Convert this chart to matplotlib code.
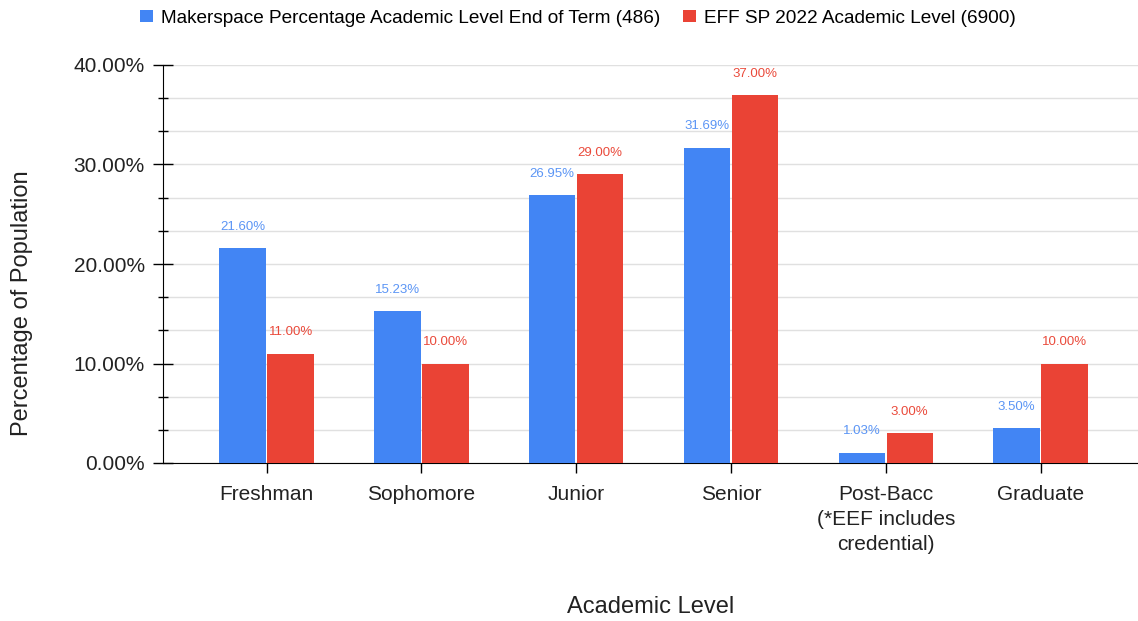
import numpy as np
import matplotlib.pyplot as plt
from matplotlib.ticker import MultipleLocator, FuncFormatter

plt.rcParams['font.family'] = ['Liberation Sans', 'DejaVu Sans']

categories = ["Freshman", "Sophomore", "Junior", "Senior",
              "Post-Bacc\n(*EEF includes\ncredential)", "Graduate"]
makerspace = [21.60, 15.23, 26.95, 31.69, 1.03, 3.50]
eff = [11.00, 10.00, 29.00, 37.00, 3.00, 10.00]
series_names = ["Makerspace Percentage Academic Level End of Term (486)",
                "EFF SP 2022 Academic Level (6900)"]

BLUE = "#4285F4"
RED = "#EA4335"

fig = plt.figure(figsize=(11.38, 6.21), dpi=100)
ax = fig.add_axes([163 / 1138, 1 - 463 / 621, (1138 - 163) / 1138, (463 - 65) / 621])

x = np.arange(len(categories))
w = 0.30
off = 0.155
b1 = ax.bar(x - off, makerspace, w, color=BLUE, label=series_names[0], zorder=3)
b2 = ax.bar(x + off, eff, w, color=RED, label=series_names[1], zorder=3)

# value labels above each bar
for rects, vals, col in [(b1, makerspace, "#5b95f5"), (b2, eff, "#ea4a3b")]:
    for r, v in zip(rects, vals):
        ax.annotate(f"{v:.2f}%", (r.get_x() + r.get_width() / 2, v),
                    xytext=(0, 11), textcoords="offset points",
                    ha="center", va="bottom", fontsize=9.5, color=col)

ax.set_xlim(-0.67, 5.63)
ax.set_ylim(0, 40)
ax.yaxis.set_major_locator(MultipleLocator(10))
ax.yaxis.set_minor_locator(MultipleLocator(10 / 3))
ax.yaxis.set_major_formatter(FuncFormatter(lambda v, p: f"{v:.2f}%"))
ax.grid(axis="y", which="both", color="#e0e0e0", linewidth=1, zorder=0)
ax.set_axisbelow(True)

ax.set_xticks(x)
ax.set_xticklabels(categories, fontsize=15, linespacing=1.4, color="#222222")
ax.tick_params(axis="y", which="major", direction="inout", length=14, width=1,
               labelsize=15, pad=6, labelcolor="#222222")
ax.tick_params(axis="y", which="minor", direction="inout", length=7, width=1)
ax.tick_params(axis="x", direction="out", length=7, width=1, pad=9)

for s in ["top", "right"]:
    ax.spines[s].set_visible(False)
ax.spines["left"].set_color("black")
ax.spines["bottom"].set_color("black")

ax.set_ylabel("Percentage of Population", fontsize=17, color="#222222")
ax.yaxis.set_label_coords(-0.133, 0.402)
ax.set_xlabel("Academic Level", fontsize=17, labelpad=30, color="#222222")

fig.legend(handles=[b1, b2], labels=series_names, loc="upper center",
           bbox_to_anchor=(0.508, 1.012), ncol=2, frameon=False, fontsize=13.7,
           handlelength=0.65, handleheight=0.65, handletextpad=0.45, columnspacing=1.2)

fig.savefig("out.png", dpi=100)
